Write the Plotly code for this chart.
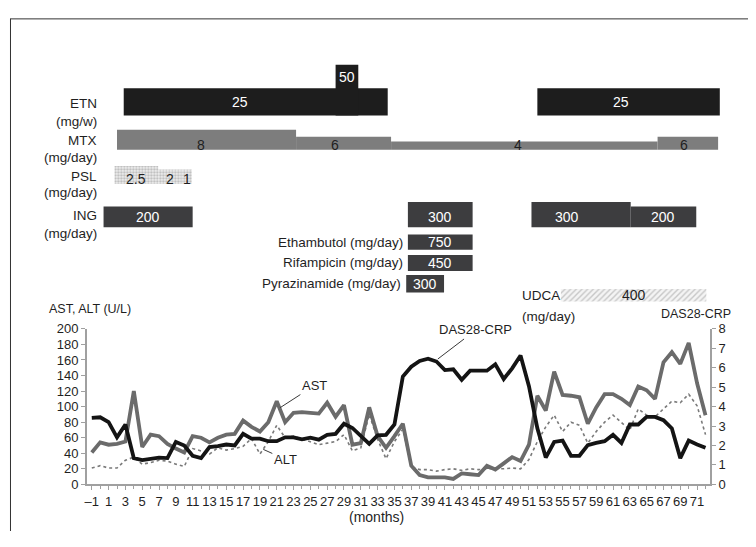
import plotly.graph_objects as go

# ---------------- data: laboratory course ----------------
months = list(range(-1, 73))
ast = [41, 54, 51, 52, 55, 120, 48, 64, 62, 52,
       46, 41, 62, 60, 54, 60, 64, 65, 82, 74,
       68, 80, 107, 80, 92, 93, 92, 91, 105, 87,
       102, 51, 53, 99, 62, 47, 62, 78, 24, 12,
       9, 9, 9, 7, 14, 13, 12, 24, 19, 27,
       35, 30, 51, 114, 95, 145, 115, 114, 112, 78,
       99, 116, 116, 110, 102, 126, 121, 110, 157, 170,
       155, 182, 130, 89]
alt = [21, 24, 21, 21, 31, 35, 26, 28, 31, 30,
       26, 23, 46, 43, 39, 47, 44, 46, 49, 59,
       39, 55, 76, 60, 62, 58, 55, 51, 53, 55,
       64, 43, 47, 90, 58, 33, 55, 71, 23, 19,
       19, 17, 19, 20, 18, 20, 19, 20, 20, 20,
       21, 20, 32, 55, 74, 89, 68, 80, 76, 53,
       68, 80, 89, 80, 70, 97, 89, 87, 97, 107,
       105, 116, 101, 64]
das28 = [3.42, 3.45, 3.2, 2.42, 3.08, 1.35, 1.25, 1.3, 1.38, 1.35,
         2.18, 2.0, 1.47, 1.35, 1.92, 1.97, 2.05, 2.0, 2.6, 2.35,
         2.35, 2.22, 2.22, 2.42, 2.42, 2.32, 2.4, 2.3, 2.55, 2.6,
         3.12, 2.9, 2.48, 2.08, 2.52, 2.55, 3.08, 5.55, 6.05, 6.35,
         6.47, 6.32, 5.88, 5.92, 5.38, 5.85, 5.85, 5.85, 6.18, 5.42,
         5.97, 6.63, 5.05, 2.88, 1.38, 2.18, 2.25, 1.47, 1.47, 2.02,
         2.13, 2.22, 2.55, 2.13, 3.08, 3.08, 3.47, 3.47, 3.3, 2.88,
         1.35, 2.25, 2.05, 1.88]

x_ticks = list(range(-1, 72, 2))
x_tick_labels = [("\u20131" if m < 0 else str(m)) for m in x_ticks]
left_ticks = list(range(0, 201, 20))
right_ticks = list(range(0, 9))

# ---------------- data: treatments (months start/end, dose) ----------------
etn_start = [2.8, 52.0, 28.0]
etn_end = [34.2, 73.7, 30.7]
etn_dose = [25, 25, 50]

mtx_start = [2.0, 23.3, 34.6, 66.3]
mtx_end = [23.3, 34.6, 66.3, 73.5]
mtx_dose = [8, 6, 4, 6]

psl_start = [1.7, 6.9, 9.7]
psl_end = [6.9, 9.7, 10.9]
psl_dose = [2.5, 2, 1]
psl_labels = ["2.5", "2", "1"]

ing_start = [0.4, 36.6, 51.3, 63.1]
ing_end = [11.0, 44.3, 63.1, 70.9]
ing_dose = [200, 300, 300, 200]

eb_start, eb_end, eb_dose = [36.6], [44.3], [750]
rfp_start, rfp_end, rfp_dose = [36.6], [44.3], [450]
pza_start, pza_end, pza_dose = [36.4], [40.9], [300]
udca_start, udca_end, udca_dose = [54.8], [72.1], [400]

# ---------------- layout geometry (reference pixels) ----------------
OFF = 8                      # page body margin
W, H = 756 - 2 * OFF, 547 - 2 * OFF
X0_PX = 90.0                 # pixel of month -1
PPM = 8.43                   # pixels per month


def px2m(px):
    return (px - X0_PX) / PPM - 1


def fx(px):
    return (px - OFF) / W


def fy(py):
    return 1 - (py - OFF) / H


FONT = "Liberation Sans, Arial, sans-serif"
DARK = "#1f1f1f"
AXC = "#a0a0a0"

fig = go.Figure()

# lower panel
fig.add_trace(go.Scatter(x=months, y=alt, mode="lines", xaxis="x", yaxis="y",
                         line=dict(color="#7a7a7a", width=1.6, dash="dot"),
                         showlegend=False, hoverinfo="skip"))
fig.add_trace(go.Scatter(x=months, y=ast, mode="lines", xaxis="x", yaxis="y",
                         line=dict(color="#6b6b6b", width=3.8),
                         showlegend=False, hoverinfo="skip"))
fig.add_trace(go.Scatter(x=months, y=das28, mode="lines", xaxis="x", yaxis="y3",
                         line=dict(color="#141414", width=3.8),
                         showlegend=False, hoverinfo="skip"))

# top panel rows (style only; label_dx = label offset in months)
rows = [
    dict(start=etn_start, end=etn_end, dose=etn_dose, labels=None, bottom=111.3,
         h={25: 28, 50: 52}, color="#1d1d1d", tcolor="white", mode="extra", pattern=None,
         label_dx=[-1.9, -0.9, 0]),
    dict(start=mtx_start, end=mtx_end, dose=mtx_dose, labels=None, bottom=146.7,
         h={8: 20.5, 6: 13.5, 4: 8.5}, color="#7d7d7d", tcolor=DARK, mode="bottom", pattern=None,
         label_dx=[-0.6, -1.0, -0.8, -0.4]),
    dict(start=psl_start, end=psl_end, dose=psl_dose, labels=psl_labels, bottom=182,
         h={2.5: 18.5, 2: 15, 1: 15}, color="#eeeeee", tcolor=DARK, mode="bottom",
         pattern=dict(shape=".", fgcolor="#8a8a8a", bgcolor="#eeeeee", size=3, solidity=0.45),
         label_dx=[0, 0, 0]),
    dict(start=ing_start, end=ing_end, dose=ing_dose, labels=None, bottom=226.5,
         h={300: 26, 200: 21.5}, color="#3d3d3f", tcolor="white", mode="base", pattern=None,
         label_dx=[0, 0, -1.7, 0]),
    dict(start=eb_start, end=eb_end, dose=eb_dose, labels=None, bottom=249.5,
         h={750: 15.5}, color="#3d3d3f", tcolor="white", mode="center", pattern=None,
         label_dx=[0]),
    dict(start=rfp_start, end=rfp_end, dose=rfp_dose, labels=None, bottom=271.5,
         h={450: 16.5}, color="#3d3d3f", tcolor="white", mode="center", pattern=None,
         label_dx=[0]),
    dict(start=pza_start, end=pza_end, dose=pza_dose, labels=None, bottom=293.5,
         h={300: 18}, color="#3d3d3f", tcolor="white", mode="center", pattern=None,
         label_dx=[0]),
    dict(start=udca_start, end=udca_end, dose=udca_dose, labels=None, bottom=302.7,
         h={400: 12.7}, color="#f2f2f2", tcolor=DARK, mode="center",
         pattern=dict(shape="/", fgcolor="#9a9a9a", bgcolor="#f4f4f4", size=4, solidity=0.35),
         label_dx=[0]),
]

annotations = []
for r in rows:
    hs = [r["h"][d] for d in r["dose"]]
    hmin = min(r["h"].values())
    ys = [r["bottom"] - hh / 2 for hh in hs]
    marker = dict(color=r["color"], line=dict(width=0))
    if r["pattern"]:
        marker["pattern"] = r["pattern"]
    fig.add_trace(go.Bar(orientation="h", base=r["start"],
                         x=[e - s for s, e in zip(r["start"], r["end"])],
                         y=ys, width=hs, xaxis="x2", yaxis="y2", marker=marker,
                         showlegend=False, hoverinfo="skip"))
    for i, d in enumerate(r["dose"]):
        hh = hs[i]
        if r["mode"] == "extra":
            ly = r["bottom"] - (hh + hmin) / 2 if hh > hmin else r["bottom"] - hh / 2
        elif r["mode"] == "base":
            ly = r["bottom"] - hmin / 2
        elif r["mode"] == "bottom":
            ly = r["bottom"] - 5
        else:
            ly = r["bottom"] - hh / 2
        txt = r["labels"][i] if r["labels"] else str(d)
        annotations.append(dict(x=(r["start"][i] + r["end"][i]) / 2 + r["label_dx"][i], y=ly,
                                xref="x2", yref="y2", text=txt, showarrow=False,
                                font=dict(family=FONT, size=14, color=r["tcolor"])))


def ptxt(text, px, py, anchor="right", size=13.5):
    annotations.append(dict(x=fx(px), y=fy(py), xref="paper", yref="paper", text=text,
                            showarrow=False, xanchor=anchor, yanchor="middle",
                            font=dict(family=FONT, size=size, color=DARK)))


# left row labels
for t, py in [("ETN", 99), ("(mg/w)", 118), ("MTX", 137), ("(mg/day)", 155),
              ("PSL", 174), ("(mg/day)", 191), ("ING", 214), ("(mg/day)", 233)]:
    ptxt(t, 97, py)
ptxt("Ethambutol (mg/day)", 404, 242.5)
ptxt("Rifampicin (mg/day)", 404, 263)
ptxt("Pyrazinamide (mg/day)", 402, 284)
ptxt("UDCA", 519, 297, anchor="left")
ptxt("(mg/day)", 519, 318, anchor="left")
ptxt("AST, ALT (U/L)", 45, 311, anchor="left", size=12.5)
ptxt("DAS28-CRP", 696, 316, anchor="center", size=12.5)
ptxt("(months)", 375, 525, anchor="center", size=14)

# line callouts
for t, hx, hy, tx, ty in [("AST", 279, 412, 313, 390), ("ALT", 262, 455, 284, 465),
                          ("DAS28-CRP", 437, 362, 475, 333)]:
    annotations.append(dict(x=px2m(hx), y=(491 - hy) / 0.8, xref="x", yref="y", text=t,
                            showarrow=True, arrowhead=0, arrowwidth=0.9, arrowcolor="#222",
                            ax=tx - hx, ay=ty - hy, standoff=0,
                            font=dict(family=FONT, size=13, color=DARK)))

axis_common = dict(showgrid=False, zeroline=False, showline=True, linecolor=AXC,
                   linewidth=1.5, ticks="outside", ticklen=4, tickcolor=AXC,
                   tickfont=dict(family=FONT, size=13, color=DARK))

fig.update_layout(
    width=W, height=H, margin=dict(l=0, r=0, t=0, b=0),
    paper_bgcolor="white", plot_bgcolor="rgba(0,0,0,0)", barmode="overlay",
    showlegend=False,
    xaxis=dict(domain=[fx(85), fx(710)], range=[px2m(85), px2m(710)], anchor="y",
               tickmode="array", tickvals=x_ticks, ticktext=x_tick_labels, tickangle=0,
               minor=dict(ticks="outside", dtick=1, tick0=-1, ticklen=3, tickcolor=AXC),
               **axis_common),
    yaxis=dict(domain=[fy(491), fy(331)], range=[0, 200], anchor="x",
               tickmode="array", tickvals=left_ticks, **axis_common),
    yaxis3=dict(domain=[fy(491), fy(331)], range=[0, 8], anchor="x", overlaying="y",
                side="right", tickmode="array", tickvals=right_ticks, **axis_common),
    xaxis2=dict(domain=[fx(85), fx(745)], range=[px2m(85), px2m(745)], anchor="y2",
                visible=False, fixedrange=True),
    yaxis2=dict(domain=[0, 1], range=[H + OFF, OFF], anchor="x2", visible=False, fixedrange=True),
    annotations=annotations,
    shapes=[
        dict(type="line", xref="paper", yref="paper", x0=0, x1=1, y0=fy(12), y1=fy(12),
             line=dict(color="#333", width=1)),
        dict(type="line", xref="paper", yref="paper", x0=fx(8.5), x1=fx(8.5), y0=0, y1=fy(12),
             line=dict(color="#333", width=1)),
    ],
)

fig.write_html("out.html")
